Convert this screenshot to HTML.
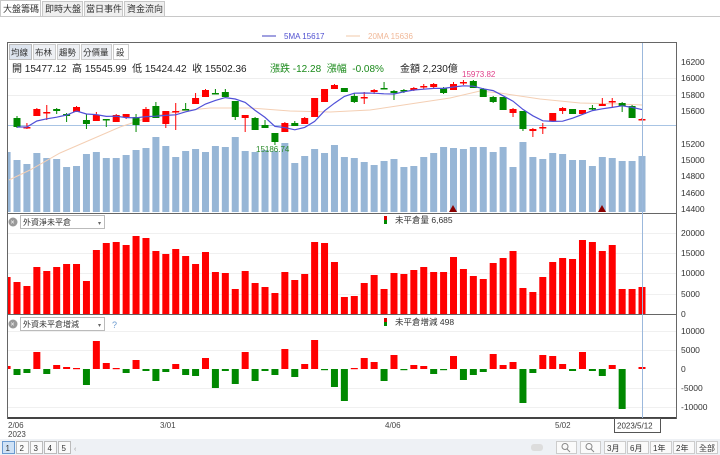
<!DOCTYPE html>
<html><head><meta charset="utf-8">
<style>
body{margin:0;width:720px;height:455px;overflow:hidden;background:#fff;font-family:"Liberation Sans","Noto Sans CJK TC",sans-serif;}
svg{position:absolute;left:0;top:0}
</style></head><body>
<svg id="s" width="720" height="455" xmlns="http://www.w3.org/2000/svg" font-family="Liberation Sans, Noto Sans CJK TC, sans-serif">
<rect x="0" y="0" width="720" height="17" fill="#fff"/>
<line x1="0" y1="16.5" x2="720" y2="16.5" stroke="#c8c8c8"/>
<rect x="0.5" y="0.5" width="40" height="16" fill="#fff" stroke="#c8c8c8"/>
<rect x="42.5" y="1.5" width="40" height="15" fill="#efefef" stroke="#c8c8c8"/>
<rect x="84.5" y="1.5" width="38" height="15" fill="#efefef" stroke="#c8c8c8"/>
<rect x="124.5" y="1.5" width="40" height="15" fill="#efefef" stroke="#c8c8c8"/>
<g font-size="9" fill="#333"><text x="3" y="12">大盤籌碼</text><text x="45" y="12">即時大盤</text><text x="86" y="12">當日事件</text><text x="127" y="12">資金流向</text></g>
<line x1="262" y1="36" x2="276" y2="36" stroke="#4040c0"/>
<text x="284" y="39" font-size="8" fill="#5050d0">5MA 15617</text>
<line x1="346" y1="36" x2="360" y2="36" stroke="#f0c8a8"/>
<text x="368" y="39" font-size="8" fill="#f0b898">20MA 15636</text>
<rect x="7.5" y="42.5" width="669" height="376" fill="#fff" stroke="#666"/>
<g font-size="8.5" fill="#333">
<rect x="9.5" y="44.5" width="22" height="15" fill="#dde4ee" stroke="#bbb"/><text x="11" y="55.5">均線</text>
<rect x="33.5" y="44.5" width="22" height="15" fill="#eef0f4" stroke="#ccc"/><text x="35" y="55.5">布林</text>
<rect x="57.5" y="44.5" width="22" height="15" fill="#eef0f4" stroke="#ccc"/><text x="59" y="55.5">趨勢</text>
<rect x="81.5" y="44.5" width="30" height="15" fill="#eef0f4" stroke="#ccc"/><text x="83" y="55.5">分價量</text>
<rect x="113.5" y="44.5" width="15" height="15" fill="#fff" stroke="#ccc"/><text x="116" y="55.5">設</text>
</g>
<text x="12" y="72" font-size="10" fill="#222">開 15477.12&#160; 高 15545.99&#160; 低 15424.42&#160; 收 15502.36</text>
<text x="270" y="72" font-size="10" fill="#1a8a1a">漲跌 -12.28&#160; 漲幅&#160; -0.08%</text>
<text x="400" y="72" font-size="10" fill="#222">金額 2,230億</text>
<g id="g"></g>
</svg>
<script>
const NS="http://www.w3.org/2000/svg",g=document.getElementById('g');
function el(t,a,txt){const e=document.createElementNS(NS,t);for(const k in a)e.setAttribute(k,a[k]);if(txt!=null)e.textContent=txt;g.appendChild(e);return e;}
const X=k=>17+k*625/63;
const W=7;
function bar(x,y,h,fill){let l=x-W/2,w=W;if(l<8){w=l+W-8;l=8;}if(w>0)el('rect',{x:l,y:y,width:w,height:h,fill:fill});}
[78,95].forEach(y=>el('line',{x1:8,x2:676,y1:y+.5,y2:y+.5,stroke:'#eee'}));
[233,253,273,294].forEach(y=>el('line',{x1:8,x2:676,y1:y+.5,y2:y+.5,stroke:'#f0f0f0'}));
[331,350,388,407].forEach(y=>el('line',{x1:8,x2:676,y1:y+.5,y2:y+.5,stroke:'#f0f0f0'}));
const vol=[152,160,164,153,158,159,167,166,154,152,158,158,155,150,148,137,146,157,151,149,152,146,147,137,151,152,150,151,143,163,156,149,153,145,157,158,162,165,161,159,167,166,157,153,147,148,149,147,147,152,147,167,142,157,159,153,154,160,160,166,157,158,161,161,156];
vol.forEach((t,i)=>bar(X(i-1),t,212-t,'#97b6d6'));
el('line',{x1:8,x2:676,y1:125.5,y2:125.5,stroke:'#a8c4e4'});
el('polyline',{points:'9,180 30,170 60,153 90,140 120,127 150,117 180,111 210,108 250,108 290,111 330,112 370,110 410,104 450,98 480,91 500,93 540,99 580,103 620,104 642,105',fill:'none',stroke:'#f4cfb4','stroke-width':1});
const C=[['g',118,127,116,128],['r',127,128,123,129],['r',109,116,108,116],['r',112,112,105,120],['g',109,111,108,114],['g',114,116,113,122],['r',107,112,106,112],['g',120,124,114,129],['r',115,121,112,121],['g',119,120,119,127],['r',115,122,114,122],['r',114,117,114,119],['g',117,125,114,132],['r',109,122,107,122],['g',106,118,102,118],['r',111,124,111,128],['r',111,112,103,130],['g',109,110,103,110],['r',98,104,93,104],['r',90,97,89,97],['g',93,93,89,93],['g',92,97,89,97],['g',101,117,101,120],['r',115,118,115,132],['g',118,130,117,130],['g',125,128,120,128],['g',133,142,133,145],['r',123,132,122,132],['g',123,126,121,126],['r',118,124,117,124],['r',98,117,98,117],['r',89,102,89,102],['r',85,89,84,89],['g',88,92,88,92],['g',96,102,93,103],['r',97,97,92,104],['r',90,92,89,94],['g',88,88,82,89],['g',91,93,90,100],['g',90,91,89,93],['r',88,90,87,91],['r',86,87,84,89],['r',84,87,83,88],['g',88,93,87,94],['r',84,90,82,90],['r',82,83,80,85],['g',81,88,80,88],['g',89,97,88,97],['g',97,102,96,103],['g',97,110,97,110],['r',109,113,108,117],['g',111,129,111,131],['r',129,131,128,137],['r',127,128,123,134],['r',113,121,113,121],['r',108,111,107,114],['g',109,114,109,114],['r',110,114,110,114],['g',108,108,105,110],['r',104,106,98,106],['r',101,102,98,108],['g',103,106,102,112],['g',106,118,105,118],['r',119,120,118,120]];
const closes=C.map(c=>c[0]=='r'?c[1]:c[2]);
C.forEach((c,i)=>{const x=X(i),col=c[0]=='r'?'#f00':'#080';
el('line',{x1:x,x2:x,y1:c[3],y2:c[4],stroke:col});
el('rect',{x:x-3.5,y:c[1],width:7,height:Math.max(1.5,c[2]-c[1]),fill:col});});
let pts=[];closes.forEach((v,i)=>{const s=closes.slice(Math.max(0,i-4),i+1);pts.push(X(i)+','+(s.reduce((a,b)=>a+b,0)/s.length).toFixed(1));});
el('polyline',{points:pts.join(' '),fill:'none',stroke:'#5050d8','stroke-width':1.2});
el('text',{x:462,y:77,'font-size':8,fill:'#e0408a'},'15973.82');
el('text',{x:256,y:152,'font-size':8,fill:'#2a8a2a'},'15186.74');
el('path',{d:'M449,212 L453,205 L457,212Z',fill:'#8b0000'});
el('path',{d:'M598,212 L602,205 L606,212Z',fill:'#8b0000'});
el('line',{x1:8,x2:676,y1:213.5,y2:213.5,stroke:'#666'});
el('line',{x1:8,x2:676,y1:314.5,y2:314.5,stroke:'#666'});
const p2=[277,282,286,267,271,267,264,264,281,250,243,242,245,236,238,251,254,249,256,264,252,272,273,289,271,283,287,293,272,280,274,242,243,262,297,296,283,275,289,273,274,270,267,272,272,257,269,276,279,263,258,251,288,292,277,262,258,259,240,242,251,245,289,289,287];
p2.forEach((t,i)=>bar(X(i-1),t,314-t,'#f00'));
const p3=[366,375,373,352,374,365,367,368,385,341,363,368,373,360,371,381,372,364,375,376,358,388,371,384,352,381,371,375,349,377,364,340,370,387,401,368,358,362,381,355,370,365,366,374,370,356,380,375,372,354,365,362,403,373,355,356,364,371,352,371,376,365,409,369,367];
const p3c='rggrgrrrgrrrgrgggrggrgggrgggrgrrgggrrrgrgrrggrgggrrrggrrrgrggrgrr';
p3.forEach((t,i)=>{if(i==63)return;let col=p3c[i]=='r'?'#f00':'#080';let y=Math.min(t,369),h=Math.max(1.2,Math.abs(t-369));if(t>369)col='#080';else if(t<369)col='#f00';
bar(X(i-1),y,h,col);});
el('line',{x1:8,x2:676,y1:418,y2:418,stroke:'#444','stroke-width':2});
el('line',{x1:642.5,x2:642.5,y1:43,y2:418,stroke:'#9bb8dc'});
function dd(y,label){el('circle',{cx:13,cy:y+7,r:4.5,fill:'#999'});el('text',{x:10.5,y:y+9.5,'font-size':7,fill:'#fff'},'×');
el('rect',{x:20.5,y:y+.5,width:84,height:13,fill:'#fff',stroke:'#bbb'});el('text',{x:23,y:y+10,'font-size':8,fill:'#333'},label);el('text',{x:98,y:y+10,'font-size':6,fill:'#666'},'▾');}
dd(215,'外資淨未平倉');dd(317,'外資未平倉增減');
el('text',{x:112,y:328,'font-size':9,fill:'#6a9ad0'},'?');
el('rect',{x:384,y:216,width:3,height:4,fill:'#d00'});el('rect',{x:384,y:220,width:3,height:4,fill:'#080'});
el('text',{x:395,y:223,'font-size':8.5,fill:'#333'},'未平倉量 6,685');
el('rect',{x:384,y:318,width:3,height:4,fill:'#d00'});el('rect',{x:384,y:322,width:3,height:4,fill:'#080'});
el('text',{x:395,y:325,'font-size':8.5,fill:'#333'},'未平倉增減 498');
const ax=[[16200,62],[16000,78],[15800,95],[15600,111],[15200,144],[15000,160],[14800,176],[14600,193],[14400,209],[20000,233],[15000,253],[10000,273],[5000,294],[0,314],[10000,331],[5000,350],[0,369],[-5000,388],[-10000,407]];
ax.forEach(a=>el('text',{x:681,y:a[1]+3,'font-size':8.5,fill:'#333'},String(a[0])));
[['2/06',8],['3/01',160],['4/06',385],['5/02',555]].forEach(d=>el('text',{x:d[1],y:428,'font-size':8,fill:'#444'},d[0]));
el('text',{x:8,y:437,'font-size':8,fill:'#444'},'2023');
el('rect',{x:614.5,y:418.5,width:46,height:14,fill:'#fff',stroke:'#555'});
el('text',{x:617,y:428.5,'font-size':8,fill:'#333'},'2023/5/12');
el('rect',{x:0,y:439,width:720,height:16,fill:'#eef1f5'});
for(let i=0;i<5;i++){el('rect',{x:2.5+i*14,y:441.5,width:12,height:12,fill:i==0?'#cfe2f6':'#fafafa',stroke:i==0?'#6a9ad0':'#bbb'});el('text',{x:5.5+i*14,y:451,'font-size':8,fill:'#333'},String(i+1));}
el('text',{x:74,y:451,'font-size':7,fill:'#999'},'‹');
el('rect',{x:531,y:444,width:12,height:7,rx:3,fill:'#ddd'});
[556,580].forEach(b=>{el('rect',{x:b+.5,y:441.5,width:20,height:12,fill:'#fafafa',stroke:'#ccc'});el('circle',{cx:b+9,cy:446.5,r:3,fill:'none',stroke:'#888'});el('line',{x1:b+11,y1:449,x2:b+14,y2:452,stroke:'#888'});});
[[604,'3月'],[627,'6月'],[650,'1年'],[673,'2年'],[696,'全部']].forEach(b=>{el('rect',{x:b[0]+.5,y:441.5,width:21,height:12,fill:'#fafafa',stroke:'#ccc'});el('text',{x:b[0]+3,y:451,'font-size':8,fill:'#333'},b[1]);});
</script>
</body></html>
